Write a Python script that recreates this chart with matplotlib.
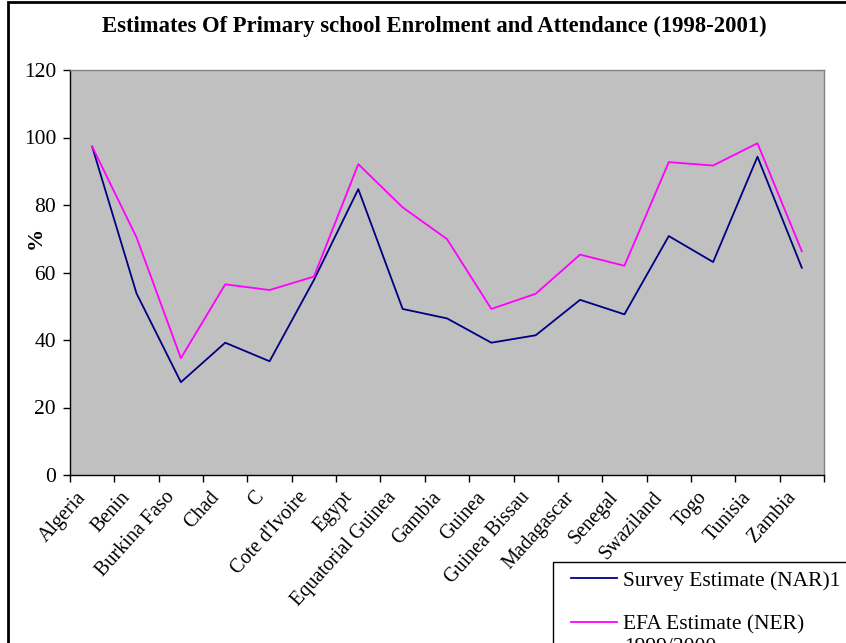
import numpy as np
import matplotlib
matplotlib.use('Agg')
from matplotlib import pyplot as plt
from matplotlib.patches import Rectangle
from matplotlib.transforms import ScaledTranslation

countries = ['Algeria', 'Benin', 'Burkina Faso', 'Chad', 'C', "Cote d'Ivoire",
             'Egypt', 'Equatorial Guinea', 'Gambia', 'Guinea', 'Guinea Bissau',
             'Madagascar', 'Senegal', 'Swaziland', 'Togo', 'Tunisia', 'Zambia']
survey_nar = [97.3, 53.8, 27.5, 39.2, 33.7, 57.8, 84.7, 49.2, 46.4, 39.2, 41.4,
              51.9, 47.6, 70.8, 63.1, 94.3, 61.4]
efa_ner = [97.3, 70.4, 34.6, 56.5, 54.8, 58.8, 92.1, 79.3, 69.9, 49.2, 53.7,
           65.3, 62.0, 92.7, 91.7, 98.3, 66.3]
yticks = [0, 20, 40, 60, 80, 100, 120]

plt.rcParams['font.family'] = ['Liberation Serif', 'DejaVu Serif']

W, H = 846, 643
fig = plt.figure(figsize=(W / 100, H / 100), dpi=100)
# axes box in pixels: left 70, right 824, top 70, bottom 475
ax = fig.add_axes([70 / W, 1 - 475 / H, (824 - 70) / W, (475 - 70) / H])
ax.set_facecolor('#C0C0C0')

x = np.arange(len(countries))
ax.plot(x, survey_nar, color='#000080', lw=1.3, label='Survey Estimate (NAR)1')
ax.plot(x, efa_ner, color='#FF00FF', lw=1.3, label='EFA Estimate (NER)')

ax.set_xlim(-0.5, len(countries) - 0.5)
ax.set_ylim(0, 120)
ax.set_yticks(yticks)
ax.tick_params(axis='y', labelsize=15.5, length=5, width=1, direction='out', pad=5)

ax.set_xticks(x)
ax.set_xticklabels(countries, rotation=48, ha='right', va='center',
                   rotation_mode='anchor', fontsize=14.5)
ax.tick_params(axis='x', which='major', length=0, pad=14)
shift = ScaledTranslation(-9 / 100, 0, fig.dpi_scale_trans)
for lab in ax.get_xticklabels():
    lab.set_transform(lab.get_transform() + shift)
ax.set_xticks(np.arange(-0.5, len(countries), 1), minor=True)
ax.tick_params(axis='x', which='minor', length=5, width=1, direction='out')

for s in ['left', 'bottom']:
    ax.spines[s].set_color('black')
    ax.spines[s].set_linewidth(1)
for s in ['top', 'right']:
    ax.spines[s].set_color('#808080')
    ax.spines[s].set_linewidth(1)

fig.text(36 / W, 1 - 238 / H, '%', rotation=90, ha='center', va='center',
         fontsize=16, fontweight='bold')

fig.text(434 / W, 1 - 26 / H,
         'Estimates Of Primary school Enrolment and Attendance (1998-2001)',
         ha='center', va='center', fontsize=16.3, fontweight='bold')

# outer chart frame
fig.patches.append(Rectangle((8 / W, -0.1), 1.2, 1 - 2 / H + 0.1,
                             transform=fig.transFigure, fill=False,
                             edgecolor='black', lw=2))

# legend box, running off the bottom right of the chart
fig.patches.append(Rectangle((553 / W, -0.1), 0.5, 0.1 + 1 - 562 / H,
                             transform=fig.transFigure, facecolor='white',
                             edgecolor='black', lw=1))
leg = fig.legend(loc='upper left', bbox_to_anchor=(562 / W, 1 - 562 / H),
                 fontsize=15.5, frameon=False, handlelength=2.15,
                 labelspacing=1.1, borderpad=0.4, handletextpad=0.3,
                 borderaxespad=0)
# second line of the EFA legend entry, cut by the chart edge
fig.text(624 / W, 1 - 647 / H, '1999/2000', ha='left', va='center', fontsize=15.5)

fig.savefig('out.png', dpi=100)
